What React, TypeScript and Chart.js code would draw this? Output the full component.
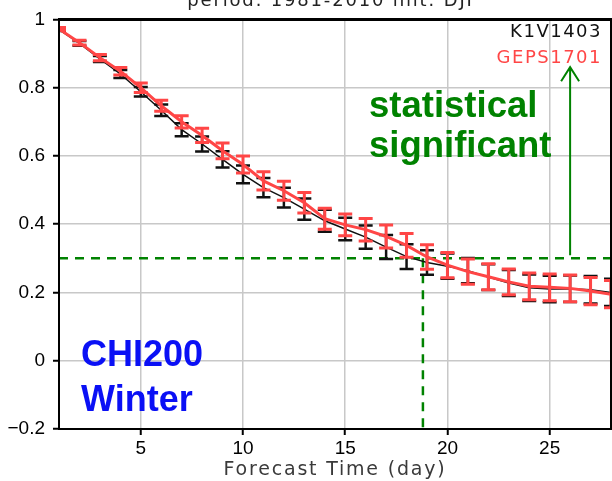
import { useEffect, useRef } from 'react';
import { Chart, registerables } from 'chart.js';

Chart.register(...registerables);

// ---- data ----
const days = [1, 2, 3, 4, 5, 6, 7, 8, 9, 10, 11, 12, 13, 14, 15, 16, 17, 18, 19, 20, 21, 22, 23, 24, 25, 26, 27, 28];
const k1vValues = [0.970, 0.930, 0.884, 0.840, 0.788, 0.734, 0.677, 0.635, 0.590, 0.546, 0.507, 0.478, 0.444, 0.410, 0.386, 0.362, 0.333, 0.305, 0.288, 0.277, 0.264, 0.245, 0.228, 0.214, 0.210, 0.211, 0.208, 0.200];
const k1vErrors = [0.004, 0.007, 0.009, 0.012, 0.014, 0.017, 0.019, 0.022, 0.024, 0.026, 0.028, 0.029, 0.031, 0.032, 0.033, 0.034, 0.035, 0.036, 0.036, 0.037, 0.037, 0.038, 0.038, 0.039, 0.039, 0.039, 0.040, 0.040];
const gepsValues = [0.972, 0.932, 0.888, 0.848, 0.800, 0.747, 0.700, 0.660, 0.615, 0.575, 0.527, 0.498, 0.463, 0.416, 0.398, 0.384, 0.364, 0.338, 0.304, 0.280, 0.261, 0.246, 0.231, 0.218, 0.215, 0.212, 0.204, 0.195];
const gepsErrors = [0.004, 0.007, 0.009, 0.011, 0.014, 0.016, 0.018, 0.021, 0.023, 0.025, 0.027, 0.028, 0.030, 0.031, 0.032, 0.033, 0.034, 0.035, 0.036, 0.037, 0.037, 0.038, 0.038, 0.039, 0.039, 0.039, 0.040, 0.040];

const xTicks = [5, 10, 15, 20, 25];
const yTicks = [-0.2, 0, 0.2, 0.4, 0.6, 0.8, 1];
const yTickLabels = ['\u22120.2', '0', '0.2', '0.4', '0.6', '0.8', '1'];

const sigLevel = 0.3;
const sigDay = 18.8;
const arrowDay = 26;
const arrowTop = 0.86;

const titleText = 'period: 1981-2010 init: DJF';
const xAxisTitle = 'Forecast Time (day)';
const seriesNames = ['K1V1403', 'GEPS1701'];
const sigLines = ['statistical', 'significant'];
const regionLines = ['CHI200', 'Winter'];

const RED = '#ff4646';
const BLACK = '#111111';
const GREEN = '#008200';
const BLUE = '#0a10f5';

const errorBarPlugin = {
  id: 'errorBars',
  afterDatasetDraw(chart: any, args: any) {
    const ds: any = chart.data.datasets[args.index];
    if (!ds.errors) return;
    const { ctx, chartArea } = chart;
    const xs = chart.scales.x;
    const ys = chart.scales.y;
    ctx.save();
    ctx.beginPath();
    ctx.rect(chartArea.left, chartArea.top, chartArea.right - chartArea.left, chartArea.bottom - chartArea.top);
    ctx.clip();
    ctx.strokeStyle = ds.borderColor;
    ctx.lineWidth = ds.errWidth;
    const cap = 7;
    ds.data.forEach((p: any, i: number) => {
      const e = ds.errors[i];
      const x = xs.getPixelForValue(p.x);
      const y1 = ys.getPixelForValue(p.y - e);
      const y2 = ys.getPixelForValue(p.y + e);
      ctx.beginPath();
      ctx.moveTo(x, y1);
      ctx.lineTo(x, y2);
      ctx.moveTo(x - cap, y1);
      ctx.lineTo(x + cap, y1);
      ctx.moveTo(x - cap, y2);
      ctx.lineTo(x + cap, y2);
      ctx.stroke();
    });
    ctx.restore();
  },
};

const sigLinesPlugin = {
  id: 'sigLines',
  beforeDatasetsDraw(chart: any) {
    const { ctx, chartArea } = chart;
    const xs = chart.scales.x;
    const ys = chart.scales.y;
    const y = ys.getPixelForValue(sigLevel);
    const x = xs.getPixelForValue(sigDay);
    ctx.save();
    ctx.strokeStyle = GREEN;
    ctx.lineWidth = 2.5;
    ctx.setLineDash([9, 7]);
    ctx.beginPath();
    ctx.moveTo(chartArea.left, y);
    ctx.lineTo(chartArea.right, y);
    ctx.stroke();
    ctx.beginPath();
    ctx.moveTo(x, y);
    ctx.lineTo(x, chartArea.bottom);
    ctx.stroke();
    ctx.restore();
  },
};

const overlayPlugin = {
  id: 'overlay',
  afterDraw(chart: any) {
    const { ctx, chartArea } = chart;
    const xs = chart.scales.x;
    const ys = chart.scales.y;
    ctx.save();
    // frame
    ctx.strokeStyle = '#000';
    ctx.lineWidth = 2;
    ctx.strokeRect(chartArea.left, chartArea.top, chartArea.right - chartArea.left, chartArea.bottom - chartArea.top);
    ctx.lineWidth = 3;
    ctx.beginPath();
    ctx.moveTo(chartArea.left - 1, chartArea.top);
    ctx.lineTo(chartArea.right + 1, chartArea.top);
    ctx.stroke();

    // arrow
    const ax = xs.getPixelForValue(arrowDay);
    const ay0 = ys.getPixelForValue(sigLevel) - 3;
    const ay1 = ys.getPixelForValue(arrowTop);
    ctx.strokeStyle = GREEN;
    ctx.lineWidth = 2;
    ctx.beginPath();
    ctx.moveTo(ax, ay0);
    ctx.lineTo(ax, ay1);
    ctx.moveTo(ax - 9, ay1 + 14);
    ctx.lineTo(ax, ay1);
    ctx.lineTo(ax + 9, ay1 + 14);
    ctx.stroke();

    const cx = (chartArea.left + chartArea.right) / 2;
    // title (cut at top)
    ctx.fillStyle = '#222';
    ctx.font = '18px "DejaVu Sans"';
    (ctx as any).letterSpacing = '1.8px';
    ctx.textAlign = 'center';
    ctx.textBaseline = 'alphabetic';
    ctx.fillText(titleText, cx - 2, 6);
    // x axis title
    ctx.fillStyle = '#3a3a3a';
    ctx.font = '19px "DejaVu Sans"';
    (ctx as any).letterSpacing = '1.8px';
    ctx.fillText(xAxisTitle, cx, 475);

    // legend
    ctx.textAlign = 'right';
    ctx.font = '18px "DejaVu Sans"';
    (ctx as any).letterSpacing = '1.5px';
    ctx.fillStyle = BLACK;
    ctx.fillText(seriesNames[0], 602, 37);
    ctx.fillStyle = RED;
    ctx.fillText(seriesNames[1], 602, 63);
    (ctx as any).letterSpacing = '0px';

    // green annotation
    ctx.textAlign = 'left';
    ctx.fillStyle = GREEN;
    ctx.font = 'bold 36.5px "Liberation Sans"';
    ctx.fillText(sigLines[0], 369, 117);
    ctx.fillText(sigLines[1], 369, 157);

    // blue annotation
    ctx.fillStyle = BLUE;
    ctx.font = 'bold 36px "Liberation Sans"';
    ctx.fillText(regionLines[0], 81, 366);
    ctx.fillText(regionLines[1], 81, 411);
    ctx.restore();
  },
};

export default function App() {
  const ref = useRef<HTMLCanvasElement | null>(null);
  useEffect(() => {
    if (!ref.current) return;
    const chart = new Chart(ref.current, {
      type: 'line',
      data: {
        datasets: [
          {
            label: seriesNames[1],
            data: days.map((d, i) => ({ x: d, y: gepsValues[i] })),
            errors: gepsErrors,
            errWidth: 3,
            borderColor: RED,
            borderWidth: 3,
            pointRadius: 0,
            tension: 0,
          } as any,
          {
            label: seriesNames[0],
            data: days.map((d, i) => ({ x: d, y: k1vValues[i] })),
            errors: k1vErrors,
            errWidth: 2.5,
            borderColor: BLACK,
            borderWidth: 1.5,
            pointRadius: 0,
            tension: 0,
          } as any,
        ],
      },
      options: {
        animation: false,
        responsive: false,
        events: [],
        layout: { padding: { top: 15, right: 1, left: 0, bottom: 0 } },
        plugins: { legend: { display: false }, tooltip: { enabled: false }, title: { display: false } },
        scales: {
          x: {
            type: 'linear',
            min: 1,
            max: 28,
            afterBuildTicks: (s: any) => {
              s.ticks = xTicks.map((v) => ({ value: v }));
            },
            afterFit: (s: any) => {
              s.height = 52;
            },
            grid: { color: '#c8c8c8', lineWidth: 1.5, tickColor: '#000', tickLength: 6, tickWidth: 2 },
            border: { display: false },
            ticks: {
              color: '#000',
              font: { family: '"Liberation Sans"', size: 19 },
              padding: 2,
              maxRotation: 0,
              autoSkip: false,
              callback: (v: any) => String(v),
            },
          },
          y: {
            type: 'linear',
            min: -0.2,
            max: 1,
            afterBuildTicks: (s: any) => {
              s.ticks = yTicks.map((v) => ({ value: v }));
            },
            afterFit: (s: any) => {
              s.width = 59;
            },
            grid: { color: '#c8c8c8', lineWidth: 1.5, tickColor: '#000', tickLength: 6, tickWidth: 2 },
            border: { display: false },
            ticks: {
              color: '#000',
              font: { family: '"Liberation Sans"', size: 19 },
              padding: 8,
              autoSkip: false,
              callback: (v: any) => {
                const i = yTicks.findIndex((t) => Math.abs(t - v) < 1e-6);
                return i >= 0 ? yTickLabels[i] : '';
              },
            },
          },
        },
      } as any,
      plugins: [sigLinesPlugin, errorBarPlugin, overlayPlugin],
    });
    return () => chart.destroy();
  }, []);
  return (
    <div style={{ position: 'absolute', left: 0, top: 0, width: 612, height: 481, background: '#fff' }}>
      <canvas ref={ref} width={612} height={481} style={{ width: 612, height: 481 }} />
    </div>
  );
}
